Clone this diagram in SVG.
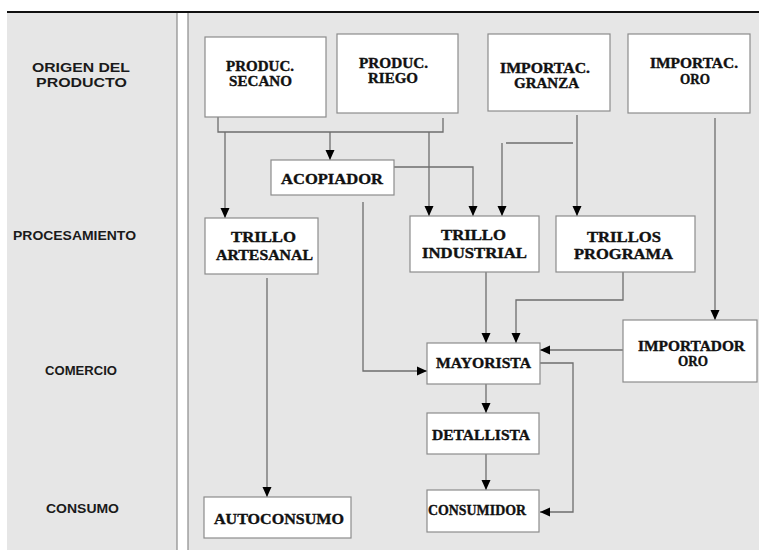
<svg xmlns="http://www.w3.org/2000/svg" width="759" height="550" viewBox="0 0 759 550">
<style>
.panel{fill:#e6e6e6}
.div{stroke:#8a8a8a;stroke-width:1.2}
.box{fill:#ffffff;stroke:#8c8c8c;stroke-width:1.2}
.lbl{font-family:"Liberation Sans",Arial,sans-serif;font-weight:bold;font-size:12.5px;fill:#1a1a1a}
.t{font-family:"Liberation Serif","Times New Roman",serif;font-weight:bold;font-size:14px;fill:#111111;stroke:#111111;stroke-width:0.35}
.s{font-size:15px}
.c{fill:none;stroke:#6e6e6e;stroke-width:1.3}
</style>
<defs>
<marker id="ah" markerUnits="userSpaceOnUse" markerWidth="10" markerHeight="10" viewBox="0 0 10 10" refX="10" refY="5" orient="auto">
<path d="M0,0.5 L10,5 L0,9.5 Z" fill="#000000"/>
</marker>
</defs>
<rect x="0" y="0" width="759" height="550" fill="#ffffff"/>
<rect class="panel" x="7" y="13" width="170" height="537"/>
<rect class="panel" x="188" y="13" width="571" height="537"/>
<line class="div" x1="177" y1="13" x2="177" y2="550"/>
<line class="div" x1="188" y1="13" x2="188" y2="550"/>
<line x1="7" y1="12" x2="759" y2="12" stroke="#111111" stroke-width="2"/>

<g id="labels">
<text class="lbl" x="32" y="72" textLength="98" lengthAdjust="spacingAndGlyphs">ORIGEN DEL</text>
<text class="lbl" x="36" y="87" textLength="91" lengthAdjust="spacingAndGlyphs">PRODUCTO</text>
<text class="lbl" x="13" y="240" textLength="123" lengthAdjust="spacingAndGlyphs">PROCESAMIENTO</text>
<text class="lbl" x="45" y="375" textLength="72" lengthAdjust="spacingAndGlyphs">COMERCIO</text>
<text class="lbl" x="46" y="513" textLength="73" lengthAdjust="spacingAndGlyphs">CONSUMO</text>
</g>

<g id="connectors">
<path class="c" d="M218 117 V132 H443 V118"/>
<path class="c" d="M330 132 V160" marker-end="url(#ah)"/>
<path class="c" d="M225 132 V218" marker-end="url(#ah)"/>
<path class="c" d="M429 132 V216" marker-end="url(#ah)"/>
<path class="c" d="M394 167 H473 V216" marker-end="url(#ah)"/>
<path class="c" d="M577 115 V216" marker-end="url(#ah)"/>
<path class="c" d="M573 143 H506"/>
<path class="c" d="M502 143 V216" marker-end="url(#ah)"/>
<path class="c" d="M363 202 V371 H427" marker-end="url(#ah)"/>
<path class="c" d="M486 272 V343" marker-end="url(#ah)"/>
<path class="c" d="M623 272 V300 H516 V343" marker-end="url(#ah)"/>
<path class="c" d="M715 118 V320" marker-end="url(#ah)"/>
<path class="c" d="M623 350 H540" marker-end="url(#ah)"/>
<path class="c" d="M540 363 H573 V512 H540" marker-end="url(#ah)"/>
<path class="c" d="M486 384 V413" marker-end="url(#ah)"/>
<path class="c" d="M486 454 V490" marker-end="url(#ah)"/>
<path class="c" d="M267 278 V497" marker-end="url(#ah)"/>
</g>

<g id="produc-secano">
<rect class="box" x="205" y="37" width="121" height="80"/>
<text class="t" x="226" y="71" textLength="68" lengthAdjust="spacingAndGlyphs">PRODUC.</text>
<text class="t" x="229" y="86" textLength="63" lengthAdjust="spacingAndGlyphs">SECANO</text>
</g>
<g id="produc-riego">
<rect class="box" x="337" y="34" width="121" height="79"/>
<text class="t" x="359" y="68" textLength="69" lengthAdjust="spacingAndGlyphs">PRODUC.</text>
<text class="t" x="368" y="83" textLength="50" lengthAdjust="spacingAndGlyphs">RIEGO</text>
</g>
<g id="importac-granza">
<rect class="box" x="488" y="34" width="122" height="77"/>
<text class="t" x="500" y="73" textLength="90" lengthAdjust="spacingAndGlyphs">IMPORTAC.</text>
<text class="t" x="514" y="88" textLength="65" lengthAdjust="spacingAndGlyphs">GRANZA</text>
</g>
<g id="importac-oro">
<rect class="box" x="628" y="34" width="122" height="79"/>
<text class="t" x="650" y="68" textLength="88" lengthAdjust="spacingAndGlyphs">IMPORTAC.</text>
<text class="t" x="680" y="84" textLength="30" lengthAdjust="spacingAndGlyphs">ORO</text>
</g>
<g id="acopiador">
<rect class="box" x="271" y="160" width="123" height="35"/>
<text class="t s" x="281" y="184" textLength="102" lengthAdjust="spacingAndGlyphs">ACOPIADOR</text>
</g>
<g id="trillo-artesanal">
<rect class="box" x="205" y="218" width="113" height="56"/>
<text class="t" x="231" y="242" textLength="65" lengthAdjust="spacingAndGlyphs">TRILLO</text>
<text class="t" x="216" y="260" textLength="97" lengthAdjust="spacingAndGlyphs">ARTESANAL</text>
</g>
<g id="trillo-industrial">
<rect class="box" x="410" y="216" width="129" height="56"/>
<text class="t" x="441" y="240" textLength="65" lengthAdjust="spacingAndGlyphs">TRILLO</text>
<text class="t" x="422" y="258" textLength="105" lengthAdjust="spacingAndGlyphs">INDUSTRIAL</text>
</g>
<g id="trillos-programa">
<rect class="box" x="556" y="216" width="139" height="56"/>
<text class="t" x="587" y="242" textLength="74" lengthAdjust="spacingAndGlyphs">TRILLOS</text>
<text class="t" x="574" y="259" textLength="99" lengthAdjust="spacingAndGlyphs">PROGRAMA</text>
</g>
<g id="mayorista">
<rect class="box" x="427" y="343" width="113" height="41"/>
<text class="t s" x="436" y="368" textLength="95" lengthAdjust="spacingAndGlyphs">MAYORISTA</text>
</g>
<g id="importador-oro">
<rect class="box" x="623" y="320" width="134" height="62"/>
<text class="t" x="638" y="351" textLength="107" lengthAdjust="spacingAndGlyphs">IMPORTADOR</text>
<text class="t" x="678" y="366" textLength="30" lengthAdjust="spacingAndGlyphs">ORO</text>
</g>
<g id="detallista">
<rect class="box" x="427" y="413" width="112" height="41"/>
<text class="t s" x="432" y="440" textLength="98" lengthAdjust="spacingAndGlyphs">DETALLISTA</text>
</g>
<g id="consumidor">
<rect class="box" x="427" y="490" width="112" height="42"/>
<text class="t s" x="428" y="515" textLength="98" lengthAdjust="spacingAndGlyphs">CONSUMIDOR</text>
</g>
<g id="autoconsumo">
<rect class="box" x="204" y="497" width="147" height="41"/>
<text class="t s" x="214" y="524" textLength="130" lengthAdjust="spacingAndGlyphs">AUTOCONSUMO</text>
</g>
</svg>
